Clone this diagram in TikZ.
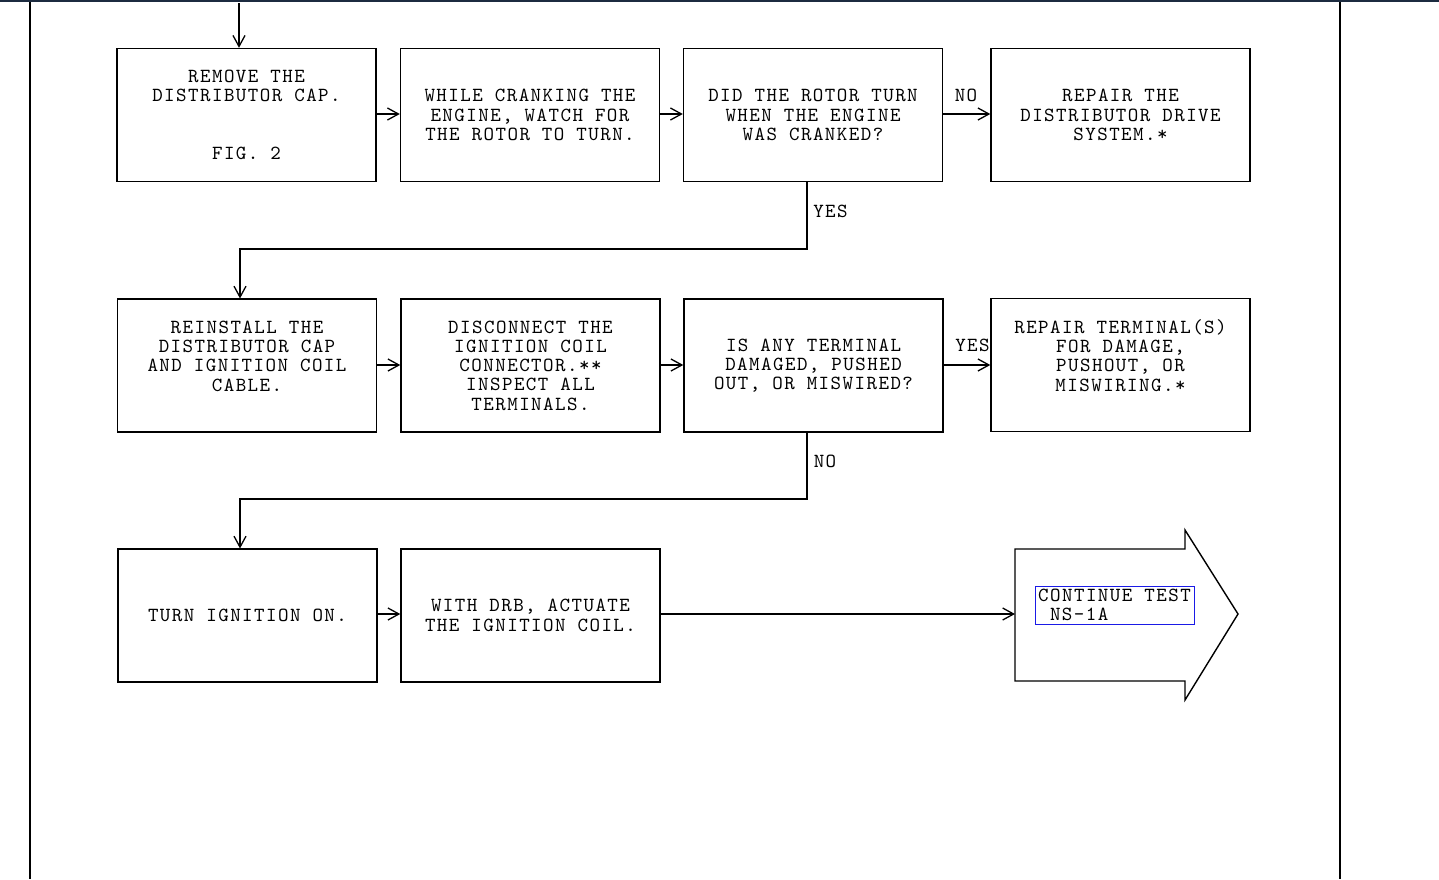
\documentclass[tikz,border=0pt]{standalone}
\usepackage{fontspec}
\newfontfamily\courfam{lmmono10-regular.otf}[LetterSpace=7.3]
\usetikzlibrary{arrows.meta}
\definecolor{navy}{HTML}{1C2B40}
\definecolor{linkblue}{HTML}{1A1AE6}
\newcommand{\courtext}{\courfam\fontsize{20}{19.3}\selectfont}
\tikzset{
  box/.style={draw, line width=1.4pt, minimum width=259pt, minimum height=133pt,
    inner sep=0pt, align=center, font=\courtext},
  lbl/.style={font=\courtext, inner sep=0pt},
  conn/.style={line width=1.4pt, -{Straight Barb[length=11pt,width=12pt,line width=1.3pt]}},
}
\begin{document}
\begin{tikzpicture}[x=1pt,y=-1pt]
\useasboundingbox (0,0) rectangle (1439,879);
\fill[white] (0,0) rectangle (1439,879);
% frame
\draw[navy, line width=2.5pt] (0,1) -- (1439,1);
\draw[line width=2pt] (30,2) -- (30,879);
\draw[line width=2.5pt] (1340,2) -- (1340,879);
% row 1
\node[box] (b1) at (246.5,115) {REMOVE THE\\DISTRIBUTOR CAP.\\ \mbox{}\\ \mbox{}\\FIG. 2};
\node[box] (b2) at (530,115) {WHILE CRANKING THE\\ENGINE, WATCH FOR\\THE ROTOR TO TURN.};
\node[box] (b3) at (813,115) {DID THE ROTOR TURN\\WHEN THE ENGINE\\WAS CRANKED?};
\node[box] (b4) at (1120.5,115) {REPAIR THE\\DISTRIBUTOR DRIVE\\SYSTEM.*};
% row 2
\node[box] (b5) at (247,365.5) {REINSTALL THE\\DISTRIBUTOR CAP\\AND IGNITION COIL\\CABLE.\\ \mbox{}};
\node[box] (b6) at (530.5,365.5) {DISCONNECT THE\\IGNITION COIL\\CONNECTOR.**\\INSPECT ALL\\TERMINALS.};
\node[box] (b7) at (813.5,365.5) {IS ANY TERMINAL\\DAMAGED, PUSHED\\OUT, OR MISWIRED?};
\node[box] (b8) at (1120.5,365) {REPAIR TERMINAL(S)\\FOR DAMAGE,\\PUSHOUT, OR\\MISWIRING.*\\ \mbox{}};
% row 3
\node[box] (b9) at (247.5,615.5) {TURN IGNITION ON.};
\node[box] (b10) at (530.5,615.5) {WITH DRB, ACTUATE\\THE IGNITION COIL.};
% continue arrow
\draw[line width=1.4pt, line join=miter] (1015,549) -- (1185,549) -- (1185,530) -- (1238,614)
  -- (1185,700) -- (1185,681) -- (1015,681) -- cycle;
\coordinate (cont) at (1015,614);
\node[draw=linkblue, line width=1pt, minimum width=159pt, minimum height=38pt, inner sep=0pt] (blue) at (1114.5,605) {};
\node[lbl, anchor=west, align=left] (ctext) at (1038,605) {CONTINUE TEST\\\hspace*{11.8pt}NS-1A};
% connectors
\coordinate (top) at (239,3);
\draw[conn] (top) -- (top |- b1.north);
\draw[conn] (b1.east |- 0,114) -- (b2.west |- 0,114);
\draw[conn] (b2.east |- 0,114) -- (b3.west |- 0,114);
\draw[conn] (b3.east |- 0,114) -- (b4.west |- 0,114);
\draw[conn] (807,181.5) -- (807,249) -- (240,249) -- (240,298.5);
\draw[conn] (b5.east |- 0,365) -- (b6.west |- 0,365);
\draw[conn] (b6.east |- 0,365) -- (b7.west |- 0,365);
\draw[conn] (b7.east |- 0,365) -- (b8.west |- 0,365);
\draw[conn] (807,432) -- (807,499) -- (240,499) -- (240,548.5);
\draw[conn] (b9.east |- 0,614) -- (b10.west |- 0,614);
\draw[conn] (b10.east |- 0,614) -- (cont);
% labels
\node[lbl] (no1) at (966,95) {NO};
\node[lbl] (yes1) at (830.5,211) {YES};
\node[lbl] (yes2) at (972.5,345) {YES};
\node[lbl] (no2) at (825,461) {NO};
\end{tikzpicture}
\end{document}
